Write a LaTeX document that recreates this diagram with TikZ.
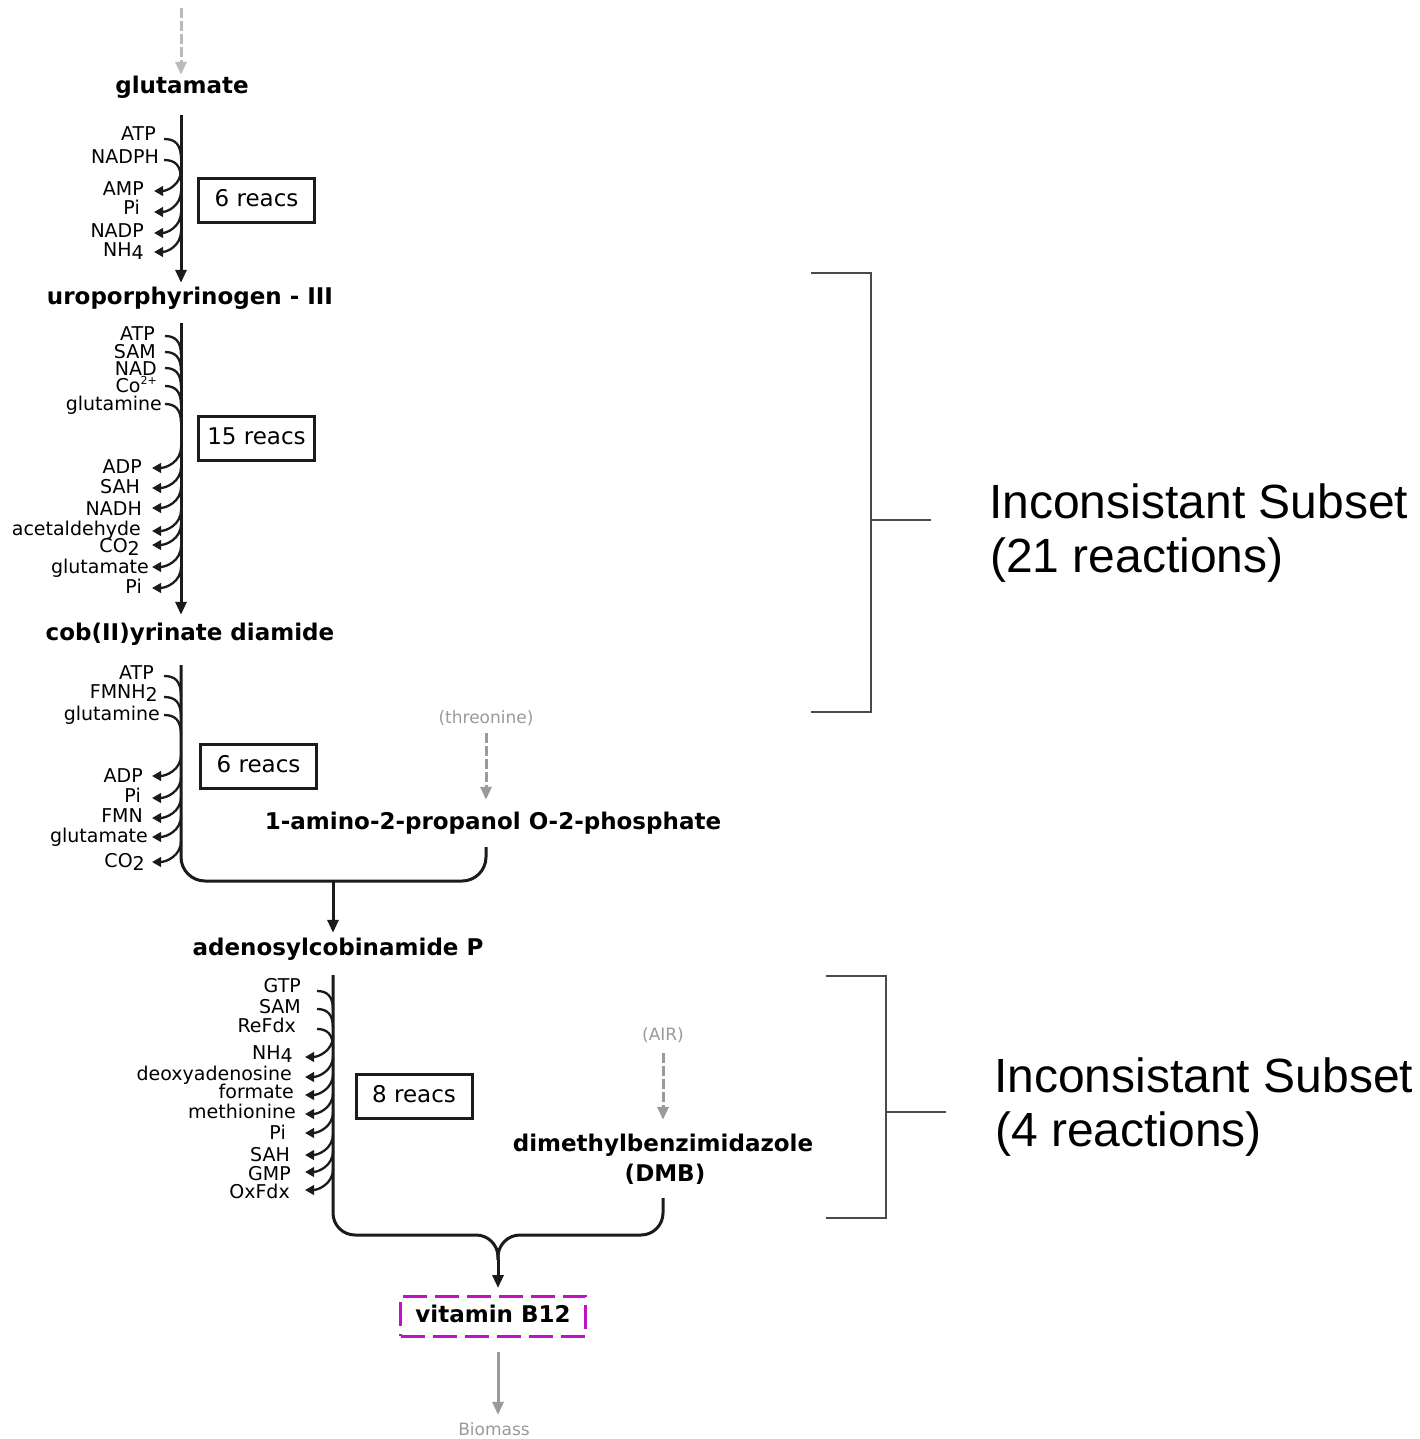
\documentclass[tikz,border=0pt]{standalone}
\usepackage{fontspec}
\setmainfont{DejaVu Sans}
\newfontfamily\arialfont{Liberation Sans}
\usetikzlibrary{arrows.meta}

\definecolor{ink}{HTML}{1E1A1A}
\definecolor{grey1}{HTML}{BBBBBB}
\definecolor{grey2}{HTML}{9A9A9A}
\definecolor{mag}{HTML}{C010C8}
\definecolor{brk}{HTML}{4A4A4A}

% lowered digit (chemical subscript) and small raised charge
\newcommand\lo[1]{\raisebox{-3pt}{#1}}
\newcommand\ionsup[1]{\raisebox{8pt}{\fontsize{11}{11}\selectfont #1}}

\begin{document}
\begin{tikzpicture}[x=1pt,y=-1pt,
  met/.style={font=\fontsize{23}{27}\selectfont\bfseries, inner sep=0pt,
    text height=17pt, text depth=5pt, anchor=base, text=black},
  side/.style={font=\fontsize{19}{22}\selectfont, inner sep=0pt,
    anchor=base east, text=black},
  note/.style={font=\fontsize{17}{20}\selectfont, inner sep=0pt,
    text height=13pt, text depth=4pt, anchor=base, text=grey2},
  reacbox/.style={draw=ink, line width=3pt, minimum width=116pt,
    minimum height=44pt, inner sep=0pt, text height=17pt, text depth=5pt,
    font=\fontsize{23}{27}\selectfont},
  spine/.style={draw=ink, line width=3pt},
  spinearrow/.style={spine, -{Triangle[width=11pt,length=13pt]}},
  cof/.style={draw=ink, line width=2.3pt},
  cofout/.style={cof, -{Triangle[width=9.5pt,length=9pt]}},
  feed/.style={line width=3pt, dash pattern=on 10pt off 3pt,
    -{Triangle[width=11pt,length=13pt]}},
  brace/.style={draw=brk, line width=1.5pt},
  subset/.style={font=\arialfont\fontsize{48}{54}\selectfont,
    inner sep=0pt, anchor=base west, text=black},
]
\fill[white] (0,0) rectangle (1420,1439);
\useasboundingbox (0,0) rectangle (1420,1439);

% ---- metabolites ----
\node[met] (glu)  at (182,94)   {glutamate};
\node[met] (uro)  at (190,304)  {uroporphyrinogen - III};
\node[met] (cob)  at (190,640)  {cob(II)yrinate diamide};
\node[met] (amp)  at (493,829)  {1-amino-2-propanol O-2-phosphate};
\node[met] (ade)  at (338,955)  {adenosylcobinamide P};
\node[met] (dmb)  at (663,1151) {dimethylbenzimidazole};
\node[met] (dmbx) at (665,1181) {(DMB)};
\node[met, anchor=center, draw=mag, line width=3pt,
      dash pattern=on 24pt off 8pt, minimum width=185pt,
      minimum height=40pt] (vit) at (493,1316) {vitamin B12};

\node[note] (thr) at (486,723)  {(threonine)};
\node[note] (air) at (663,1040) {(AIR)};
\node[note] (bio) at (494,1435) {Biomass};

% ---- reaction counts ----
\node[reacbox] (r1) at (256.5,200.5) {6 reacs};
\node[reacbox] (r2) at (256.5,438.5) {15 reacs};
\node[reacbox] (r3) at (258.5,766.5) {6 reacs};
\node[reacbox] (r4) at (414,1096.5)  {8 reacs};

% ---- main spines ----
\coordinate (top) at (181,8);
\draw[feed, grey1, shorten >=2pt] (top) -- (glu.north -| top);

\coordinate (s1) at (181,115);
\draw[spinearrow, shorten >=4pt] (s1) -- (uro.north -| s1);

\coordinate (s2) at (181,323);
\draw[spinearrow, shorten >=8pt] (s2) -- (cob.north -| s2);

\coordinate (s3) at (181,665);
\coordinate (j1) at (333,881);
\coordinate (e3) at (486,847);
\draw[spine, rounded corners=24pt] (s3) |- (j1) -| (e3);
\draw[spinearrow, shorten >=5pt] (j1) -- (ade.north -| j1);
\draw[feed, grey2, shorten <=6pt, shorten >=12pt] (thr.south) -- (amp.north -| thr.south);

\coordinate (s4) at (333,975);
\coordinate (e4) at (663,1198);
\coordinate (j2) at (498,1235);
\coordinate (j2b) at (498,1260);
\draw[spine, rounded corners=22pt] (s4) |- (j2) -- (j2b);
\draw[spine, rounded corners=22pt] (e4) |- (j2) -- (j2b);
\draw[spinearrow, shorten >=6.5pt] (j2b) -- (vit.north -| j2b);
\draw[feed, grey2, shorten <=9pt, shorten >=14pt] (air.south) -- (dmb.north -| air.south);
\draw[grey2, line width=3pt, -{Triangle[width=11pt,length=13pt]},
      shorten <=14.5pt, shorten >=7pt] (vit.south -| j2b) -- (bio.north -| j2b);

% ---- cofactors: glutamate -> uroporphyrinogen III ----
\foreach \b/\t/\r/\c in {141/ATP/156/139, 164/NADPH/159/160}{
  \node[side] (p\b) at (\r,\b) {\t};
  \draw[cof] (164,\c) .. controls (175,\c) and (181,\c+5) .. (181,\c+20);
}
\foreach \b/\t/\r/\c in {196/AMP/144/191, 215/Pi/140/212, 238/NADP/144/233,
                         256/NH\lo{4}/144/252}{
  \node[side] (p\b) at (\r,\b) {\t};
  \draw[cofout] (181,\c-21) .. controls (181,\c-6) and (167,\c) .. (154,\c);
}

% ---- cofactors: uroporphyrinogen III -> cob(II)yrinate diamide ----
\foreach \b/\t/\r/\c in {340/ATP/155/336, 358/SAM/156/352, 375/NAD/157/368,
                         392/Co\ionsup{2+}/157/386, 410/glutamine/162/404}{
  \node[side] (q\b) at (\r,\b) {\t};
  \draw[cof] (165,\c) .. controls (175,\c) and (181,\c+5) .. (181,\c+19);
}
\foreach \b/\t/\r/\c in {473/ADP/142/468, 493/SAH/140/488, 515/NADH/142/508,
                         535/acetaldehyde/141/531, 552/CO\lo{2}/140/545,
                         573/glutamate/149/567, 593/Pi/142/588}{
  \node[side] (q\b) at (\r,\b) {\t};
  \draw[cofout] (181,\c-21) .. controls (181,\c-6) and (166,\c) .. (152,\c);
}

% ---- cofactors: cob(II)yrinate diamide -> adenosylcobinamide P ----
\foreach \b/\t/\r/\c in {679/ATP/154/676, 698/FMNH\lo{2}/158/697,
                         720/glutamine/160/715}{
  \node[side] (w\b) at (\r,\b) {\t};
  \draw[cof] (164,\c) .. controls (175,\c) and (181,\c+5) .. (181,\c+20);
}
\foreach \b/\t/\r/\c in {782/ADP/143/776, 802/Pi/141/798, 822/FMN/143/818,
                         842/glutamate/148/837, 867/CO\lo{2}/145/862}{
  \node[side] (w\b) at (\r,\b) {\t};
  \draw[cofout] (181,\c-21) .. controls (181,\c-6) and (166,\c) .. (152,\c);
}

% ---- cofactors: adenosylcobinamide P -> vitamin B12 ----
\foreach \b/\t/\r/\c in {992/GTP/301/991, 1013/SAM/301/1009, 1032/ReFdx/296/1029}{
  \node[side] (z\b) at (\r,\b) {\t};
  \draw[cof] (317,\c) .. controls (327,\c) and (333,\c+5) .. (333,\c+19);
}
\foreach \b/\t/\r/\c in {1059/NH\lo{4}/293/1057, 1080/deoxyadenosine/292/1077,
                         1098/formate/294/1095, 1118/methionine/296/1114,
                         1139/Pi/286/1133, 1161/SAH/290/1155,
                         1180/GMP/291/1172, 1198/OxFdx/290/1190}{
  \node[side] (z\b) at (\r,\b) {\t};
  \draw[cofout] (333,\c-21) .. controls (333,\c-6) and (318,\c) .. (305,\c);
}

% ---- inconsistent subsets ----
\draw[brace] (811,273) -- (871,273) -- (871,712) -- (811,712);
\draw[brace] (871,520) -- (931,520);
\node[subset] (t1)  at (989,518) {Inconsistant Subset};
\node[subset] (t1b) at (990,572) {(21 reactions)};

\draw[brace] (826,976) -- (886,976) -- (886,1218) -- (826,1218);
\draw[brace] (886,1112) -- (946,1112);
\node[subset] (t2)  at (994,1092) {Inconsistant Subset};
\node[subset] (t2b) at (995,1146) {(4 reactions)};
\end{tikzpicture}
\end{document}
